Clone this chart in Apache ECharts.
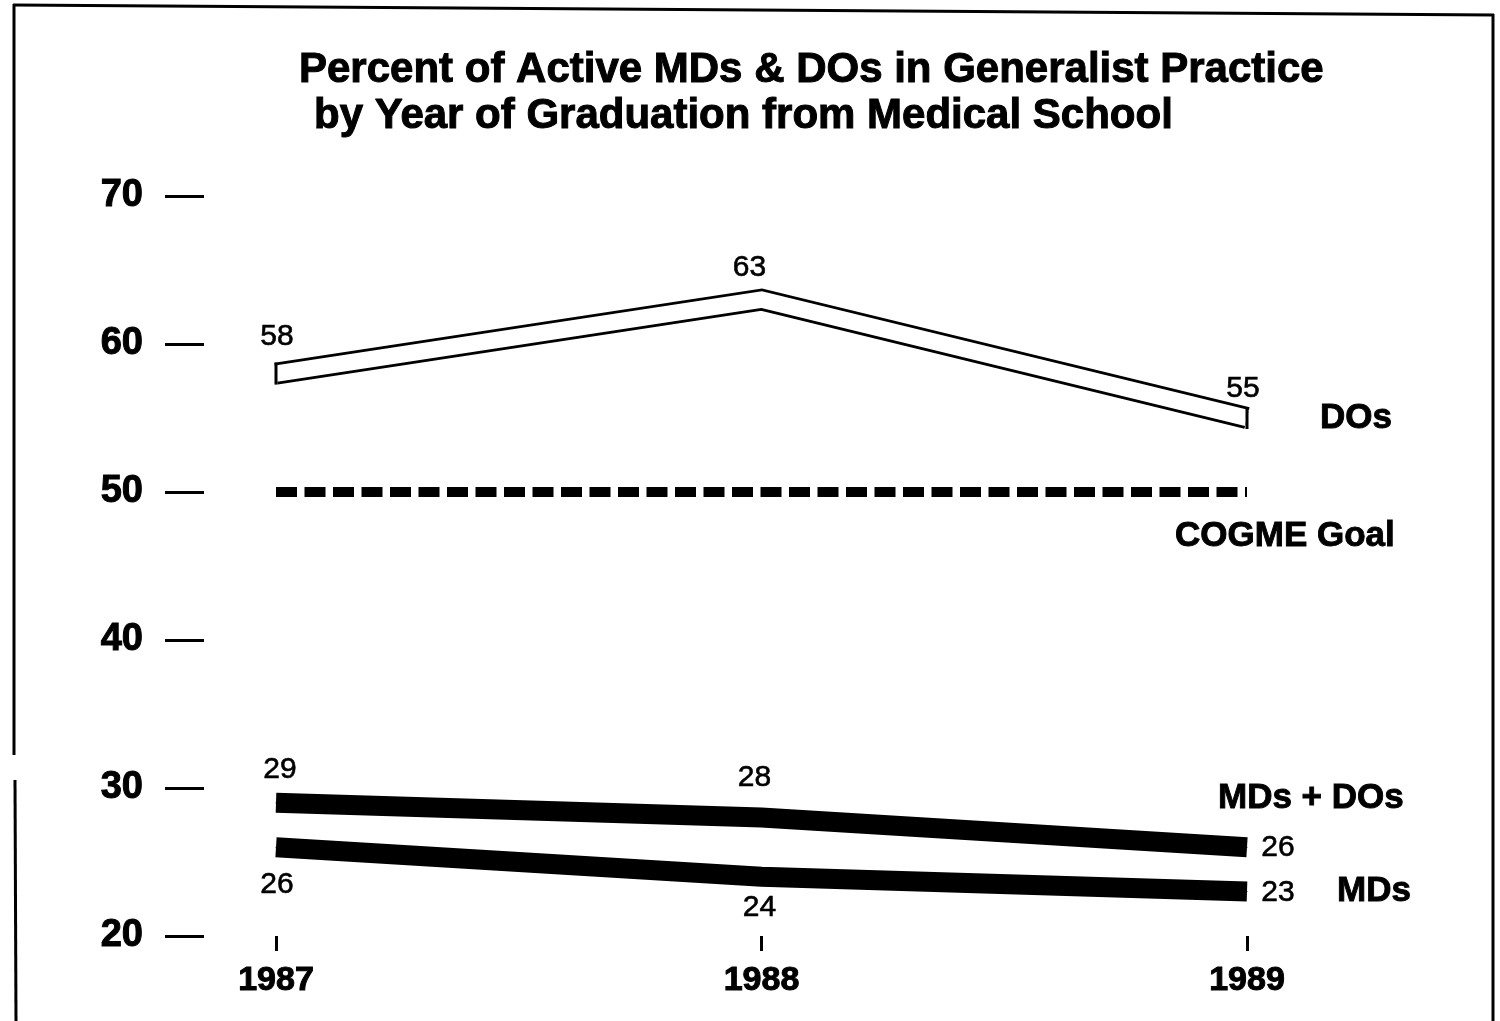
<!DOCTYPE html>
<html>
<head>
<meta charset="utf-8">
<script src="https://cdn.jsdelivr.net/npm/echarts@6/dist/echarts.min.js"></script>
<style>
  html, body { margin: 0; padding: 0; background: #fff; }
  #chart { width: 1500px; height: 1021px; }
</style>
</head>
<body>
<div id="chart"></div>
<script>
// data
const years = ['1987', '1988', '1989'];
const dos = [58, 63, 55];
const mdsDos = [29, 28, 26];
const mds = [26, 24, 23];
const cogmeGoal = [50, 50, 50];

const FONT = '"Liberation Sans", Arial, Helvetica, sans-serif';

// where each value label sits relative to its point
const dosOffsets = [[1, -37], [-12, -32], [-4, -29]];
const mdsDosOffsets = [[4, -33], [-7, -40], [31, 1]];
const mdsOffsets = [[1, 38], [-2, 31], [31, 1]];

function withLabels(values, offsets) {
  return values.map((v, i) => ({
    value: v,
    label: { position: 'inside', offset: offsets[i] }
  }));
}

const numLabel = {
  show: true,
  color: '#000',
  fontFamily: FONT,
  fontSize: 30,
  textBorderColor: '#000',
  textBorderWidth: 0.6
};

const nameLabel = {
  show: true,
  color: '#000',
  fontFamily: FONT,
  fontWeight: 'bold',
  fontSize: 35,
  align: 'left',
  verticalAlign: 'middle',
  textBorderColor: '#000',
  textBorderWidth: 0.9
};

const titleStyle = {
  fontFamily: FONT, fontWeight: 'bold', fontSize: 42, color: '#000',
  textBorderColor: '#000', textBorderWidth: 1
};

const myChart = echarts.init(document.getElementById('chart'));

const option = {
  animation: false,
  backgroundColor: '#fff',
  title: [
    { text: 'Percent of Active MDs & DOs in Generalist Practice', left: 294, top: 44, textStyle: titleStyle },
    { text: 'by Year of Graduation from Medical School', left: 309, top: 90, textStyle: titleStyle }
  ],
  grid: { left: 276, right: 253, top: 196, bottom: 85, containLabel: false },
  xAxis: {
    type: 'category',
    boundaryGap: false,
    data: years,
    axisLine: { show: false },
    axisTick: { show: true, length: 15, lineStyle: { color: '#000', width: 3 } },
    axisLabel: {
      color: '#000', fontFamily: FONT, fontWeight: 'bold', fontSize: 34, margin: 28,
      textBorderColor: '#000', textBorderWidth: 1
    },
    splitLine: { show: false }
  },
  yAxis: {
    type: 'value',
    min: 20,
    max: 70,
    interval: 10,
    offset: 72,
    axisLine: { show: false },
    axisTick: { show: true, length: 39, lineStyle: { color: '#000', width: 3 } },
    axisLabel: {
      color: '#000', fontFamily: FONT, fontWeight: 'bold', fontSize: 38, margin: 61,
      textBorderColor: '#000', textBorderWidth: 1
    },
    splitLine: { show: false }
  },
  series: [
    {
      name: 'COGME Goal',
      type: 'line',
      data: cogmeGoal,
      symbol: 'none',
      lineStyle: { color: '#000', width: 10, type: [21, 7.5], cap: 'butt' },
      endLabel: Object.assign({}, nameLabel, { formatter: 'COGME Goal', distance: 8, offset: [-80, 44] }),
      z: 2
    },
    {
      name: 'DOs',
      type: 'line',
      data: withLabels(dos, dosOffsets),
      symbol: 'circle',
      symbolSize: 1,
      itemStyle: { color: '#000' },
      lineStyle: { color: '#000', width: 22, cap: 'butt', join: 'miter' },
      label: numLabel,
      endLabel: Object.assign({}, nameLabel, { formatter: 'DOs', distance: 73 }),
      z: 3
    },
    {
      name: 'DOs inner',
      type: 'line',
      data: dos,
      symbol: 'none',
      lineStyle: { color: '#fff', width: 16.5, cap: 'butt', join: 'miter' },
      z: 4
    },
    {
      name: 'DOs ends',
      type: 'line',
      data: dos,
      symbol: 'rect',
      symbolSize: (val, params) => params.dataIndex === 1 ? 0 : [3, 22],
      itemStyle: { color: '#000' },
      lineStyle: { opacity: 0 },
      z: 5
    },
    {
      name: 'MDs + DOs',
      type: 'line',
      data: withLabels(mdsDos, mdsDosOffsets),
      symbol: 'circle',
      symbolSize: 1,
      itemStyle: { color: '#000' },
      lineStyle: { color: '#000', width: 20, cap: 'butt', join: 'miter' },
      label: numLabel,
      endLabel: Object.assign({}, nameLabel, { formatter: 'MDs + DOs', distance: 8, offset: [-37, -49] }),
      z: 3
    },
    {
      name: 'MDs',
      type: 'line',
      data: withLabels(mds, mdsOffsets),
      symbol: 'circle',
      symbolSize: 1,
      itemStyle: { color: '#000' },
      lineStyle: { color: '#000', width: 20, cap: 'butt', join: 'miter' },
      label: numLabel,
      endLabel: Object.assign({}, nameLabel, { formatter: 'MDs', distance: 90 }),
      z: 3
    }
  ],
  graphic: [
    // frame of the scanned page
    { type: 'line', shape: { x1: 13, y1: 5, x2: 1494, y2: 15 }, style: { stroke: '#000', lineWidth: 3 } },
    { type: 'line', shape: { x1: 14, y1: 4, x2: 14, y2: 755 }, style: { stroke: '#000', lineWidth: 3 } },
    { type: 'line', shape: { x1: 15, y1: 780, x2: 16, y2: 1021 }, style: { stroke: '#000', lineWidth: 3 } },
    { type: 'line', shape: { x1: 1493, y1: 14, x2: 1493, y2: 1021 }, style: { stroke: '#000', lineWidth: 3 } }
  ]
};

option && myChart.setOption(option);
</script>
</body>
</html>
